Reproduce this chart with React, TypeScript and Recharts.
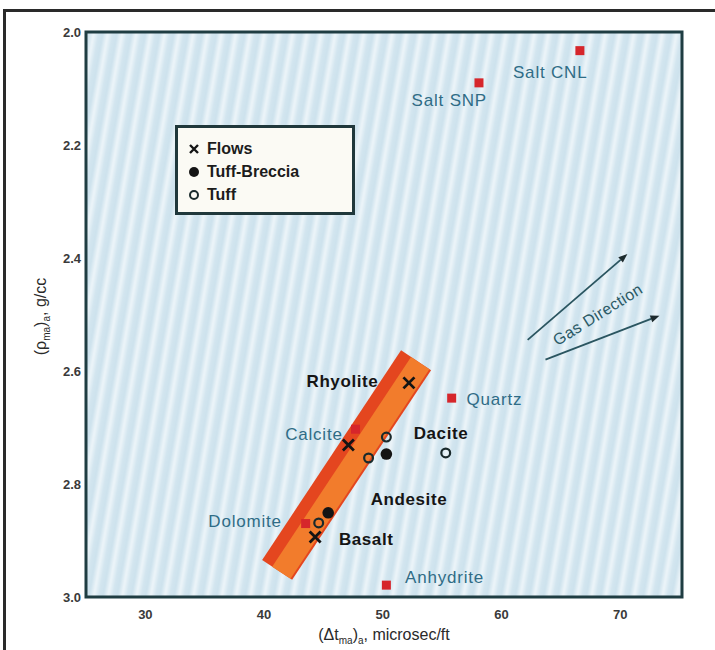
import { ScatterChart, Scatter, XAxis, YAxis, CartesianGrid, ReferenceArea, ReferenceLine, Legend, Label } from 'recharts'

// axis ticks
const xTicks = [30, 40, 50, 60, 70]
const yTicks = [2.0, 2.2, 2.4, 2.6, 2.8, 3.0]

// reference minerals (red squares)
const mineralNames = ['Salt CNL', 'Salt SNP', 'Quartz', 'Calcite', 'Dolomite', 'Anhydrite']
const mineralDt = [66.6, 58.1, 55.8, 47.7, 43.5, 50.3]
const mineralRho = [2.033, 2.09, 2.648, 2.703, 2.87, 2.979]
// where each mineral name is written
const mineralLabelDt = [64.1, 55.6, 59.4, 44.2, 38.4, 55.2]
const mineralLabelRho = [2.071, 2.122, 2.65, 2.713, 2.867, 2.966]

// volcanic samples
const flowDt = [52.2, 47.1, 44.3]
const flowRho = [2.621, 2.731, 2.894]
const brecciaDt = [50.3, 45.4]
const brecciaRho = [2.747, 2.851]
const tuffDt = [50.3, 48.8, 55.3, 44.6]
const tuffRho = [2.717, 2.754, 2.745, 2.869]

// rock type names
const rockNames = ['Rhyolite', 'Dacite', 'Andesite', 'Basalt']
const rockDt = [46.6, 54.9, 52.2, 48.6]
const rockRho = [2.619, 2.71, 2.828, 2.899]

// orange trend band (centre line, bottom -> top) and its lighter core
const bandDt = [41.1, 52.8]
const bandRho = [2.952, 2.581]
const bandCoreDt = [41.45, 53.15]
const bandCoreRho = [2.957, 2.586]

// gas direction arrows
const gasStartDt = [62.2, 63.7]
const gasStartRho = [2.545, 2.58]
const gasEndDt = [70.6, 73.3]
const gasEndRho = [2.393, 2.502]
const gasLabel = { x: 68.1, y: 2.5, name: 'Gas Direction' }

const FONT = '"Liberation Sans", Arial, Helvetica, sans-serif'

const toPoints = (xs: number[], ys: number[], names?: string[]) =>
  xs.map((x, i) => ({ x, y: ys[i], name: names ? names[i] : '' }))

const minerals = toPoints(mineralDt, mineralRho, mineralNames)
const mineralLabels = toPoints(mineralLabelDt, mineralLabelRho, mineralNames)
const flows = toPoints(flowDt, flowRho)
const breccia = toPoints(brecciaDt, brecciaRho)
const tuff = toPoints(tuffDt, tuffRho)
const rocks = toPoints(rockDt, rockRho, rockNames)
const band = toPoints(bandDt, bandRho)
const bandCore = toPoints(bandCoreDt, bandCoreRho)

const Square = (p: any) => <rect x={p.cx - 4.5} y={p.cy - 4.5} width={9} height={9} fill="#d6262b" />
const Cross = (p: any) => (
  <path
    d={`M${p.cx - 5.5},${p.cy - 5.5}L${p.cx + 5.5},${p.cy + 5.5}M${p.cx + 5.5},${p.cy - 5.5}L${p.cx - 5.5},${p.cy + 5.5}`}
    stroke="#141414"
    strokeWidth={2.8}
  />
)
const Dot = (p: any) => <circle cx={p.cx} cy={p.cy} r={5.8} fill="#141414" />
const Ring = (p: any) => <circle cx={p.cx} cy={p.cy} r={4.4} fill="none" stroke="#1a2a2c" strokeWidth={2.2} />
const Nothing = () => <g />

const MineralText = (p: any) => (
  <text x={p.cx} y={p.cy} textAnchor="middle" dominantBaseline="central" fontFamily={FONT} fontSize={17} letterSpacing={0.8} fill="#2f6c86">
    {p.payload.name}
  </text>
)
const RockText = (p: any) => (
  <text x={p.cx} y={p.cy} textAnchor="middle" dominantBaseline="central" fontFamily={FONT} fontSize={17} letterSpacing={0.6} fontWeight="bold" fill="#151515">
    {p.payload.name}
  </text>
)
const GasText = (p: any) => (
  <text
    x={p.cx}
    y={p.cy}
    textAnchor="middle"
    dominantBaseline="central"
    fontFamily={FONT}
    fontSize={16}
    letterSpacing={0.4}
    fill="#2b5a66"
    transform={`rotate(-32 ${p.cx} ${p.cy})`}
  >
    {p.payload.name}
  </text>
)

const Arrow = (p: any) => {
  const { x1, y1, x2, y2 } = p
  const a = Math.atan2(y2 - y1, x2 - x1)
  const bx = x2 - 9 * Math.cos(a)
  const by = y2 - 9 * Math.sin(a)
  const w = 3.5
  return (
    <g>
      <line x1={x1} y1={y1} x2={bx} y2={by} stroke="#2a5560" strokeWidth={1.8} />
      <polygon
        points={`${x2},${y2} ${bx - w * Math.sin(a)},${by + w * Math.cos(a)} ${bx + w * Math.sin(a)},${by - w * Math.cos(a)}`}
        fill="#1d2b2e"
      />
    </g>
  )
}

const LegendBox = () => {
  const row = { display: 'flex', alignItems: 'center', height: 23 }
  const mark = { width: 14, marginRight: 6, display: 'flex', justifyContent: 'center' }
  return (
    <div
      style={{
        width: 180,
        height: 90,
        boxSizing: 'border-box',
        border: '3px solid #20383b',
        background: '#fbfaf4',
        padding: '9px 0 0 9px',
        fontFamily: FONT,
        fontSize: 16,
        fontWeight: 'bold',
        color: '#1c1c1c',
      }}
    >
      <div style={row}>
        <span style={mark}>
          <svg width={12} height={12}><path d="M2,2L10,10M10,2L2,10" stroke="#141414" strokeWidth={2.4} /></svg>
        </span>
        Flows
      </div>
      <div style={row}>
        <span style={mark}>
          <svg width={12} height={12}><circle cx={6} cy={6} r={5} fill="#141414" /></svg>
        </span>
        Tuff-Breccia
      </div>
      <div style={row}>
        <span style={mark}>
          <svg width={12} height={12}><circle cx={6} cy={6} r={4} fill="none" stroke="#1a2a2c" strokeWidth={2} /></svg>
        </span>
        Tuff
      </div>
    </div>
  )
}

const XTitle = (p: any) => {
  const vb = p.viewBox
  return (
    <text x={vb.x + vb.width / 2} y={vb.y + 43} textAnchor="middle" fontFamily={FONT} fontSize={16} fill="#2a2a2a">
      (Δt<tspan fontSize={10} dy={4}>ma</tspan>
      <tspan dy={-4}>)</tspan>
      <tspan fontSize={10} dy={4}>a</tspan>
      <tspan dy={-4}>, microsec/ft</tspan>
    </text>
  )
}

const YTitle = (p: any) => {
  const vb = p.viewBox
  const cx = 46
  const cy = vb.y + vb.height / 2 + 2
  return (
    <text x={cx} y={cy} textAnchor="middle" fontFamily={FONT} fontSize={16} fill="#2a2a2a" transform={`rotate(-90 ${cx} ${cy})`}>
      (ρ<tspan fontSize={10} dy={4}>ma</tspan>
      <tspan dy={-4}>)</tspan>
      <tspan fontSize={10} dy={4}>a</tspan>
      <tspan dy={-4}>, g/cc</tspan>
    </text>
  )
}

const tickStyle = { fontFamily: FONT, fontSize: 13, fontWeight: 'bold', fill: '#3a3a3a' }

export default function App() {
  return (
    <div style={{ position: 'absolute', left: 0, top: 0, width: 715, height: 650, background: '#ffffff' }}>
      <div
        style={{
          position: 'absolute',
          left: 3,
          top: 9,
          width: 720,
          height: 650,
          borderTop: '3px solid #2a2a2a',
          borderLeft: '3px solid #2a2a2a',
        }}
      />
      <ScatterChart width={715} height={650} margin={{ top: 32, right: 33, bottom: 13, left: 0 }}>
        <defs>
          <linearGradient id="stripeFade" x1="0" y1="0" x2="1" y2="0">
            <stop offset="0%" stopColor="#edf5f9" />
            <stop offset="35%" stopColor="#d2e5ef" />
            <stop offset="65%" stopColor="#cde2ed" />
            <stop offset="100%" stopColor="#edf5f9" />
          </linearGradient>
          <pattern id="stripes" width={14} height={14} patternUnits="userSpaceOnUse" patternTransform="rotate(10)">
            <rect width={14} height={14} fill="url(#stripeFade)" />
          </pattern>
        </defs>
        <CartesianGrid horizontal={false} vertical={false} fill="url(#stripes)" fillOpacity={1} />
        <XAxis
          type="number"
          dataKey="x"
          domain={[25, 75.2]}
          ticks={xTicks}
          allowDataOverflow
          axisLine={false}
          tickLine={false}
          tickSize={0}
          tickMargin={13}
          height={40}
          tick={tickStyle}
        >
          <Label content={XTitle} />
        </XAxis>
        <YAxis
          type="number"
          dataKey="y"
          domain={[2, 3]}
          reversed
          ticks={yTicks}
          allowDataOverflow
          axisLine={false}
          tickLine={false}
          tickSize={0}
          tickMargin={5}
          width={86}
          tick={tickStyle}
          tickFormatter={(v: number) => v.toFixed(1)}
        >
          <Label content={YTitle} />
        </YAxis>
        <Scatter data={band} line={{ stroke: '#e4461f', strokeWidth: 36 }} shape={Nothing} isAnimationActive={false} legendType="none" />
        <Scatter data={bandCore} line={{ stroke: '#f27c2c', strokeWidth: 22 }} shape={Nothing} isAnimationActive={false} legendType="none" />
        <Scatter data={minerals} shape={Square} isAnimationActive={false} legendType="none" />
        <Scatter data={mineralLabels} shape={MineralText} isAnimationActive={false} legendType="none" />
        <Scatter data={rocks} shape={RockText} isAnimationActive={false} legendType="none" />
        <Scatter data={flows} shape={Cross} isAnimationActive={false} legendType="none" />
        <Scatter data={breccia} shape={Dot} isAnimationActive={false} legendType="none" />
        <Scatter data={tuff} shape={Ring} isAnimationActive={false} legendType="none" />
        <Scatter data={[gasLabel]} shape={GasText} isAnimationActive={false} legendType="none" />
        {gasStartDt.map((x, i) => (
          <ReferenceLine
            key={i}
            segment={[{ x, y: gasStartRho[i] }, { x: gasEndDt[i], y: gasEndRho[i] }]}
            shape={Arrow}
            ifOverflow="visible"
          />
        ))}
        <ReferenceArea x1={25} x2={75.2} y1={2} y2={3} fill="none" stroke="#1f3d42" strokeWidth={3} ifOverflow="visible" />
        <Legend
          layout="horizontal"
          verticalAlign="middle"
          align="center"
          wrapperStyle={{ left: 175, top: 125, width: 180 }}
          content={() => <LegendBox />}
        />
      </ScatterChart>
    </div>
  )
}
